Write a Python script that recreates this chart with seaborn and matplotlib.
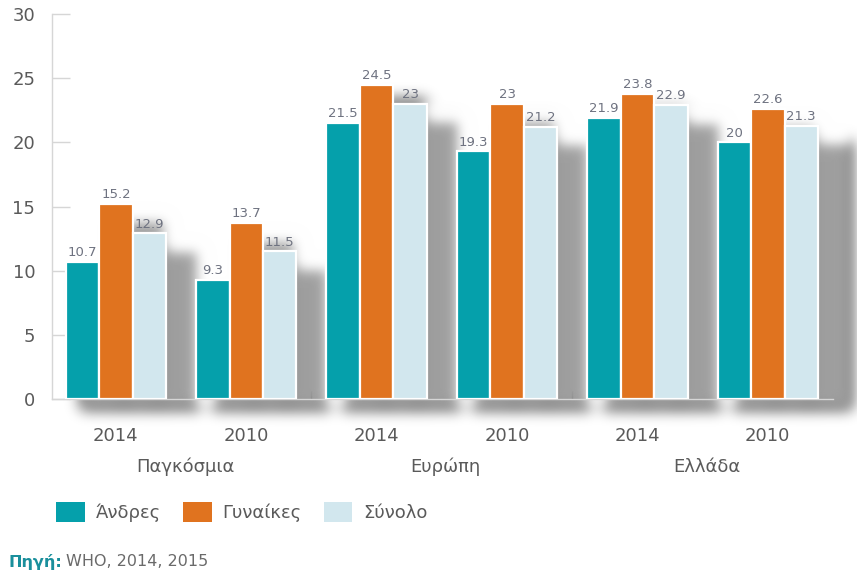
import numpy as np
import pandas as pd
import matplotlib
matplotlib.use("Agg")
import matplotlib.pyplot as plt
from matplotlib.patches import Rectangle, Patch
from matplotlib.collections import PatchCollection
from matplotlib.transforms import blended_transform_factory
import seaborn as sns

# ---- data -------------------------------------------------------------
regions = ["Παγκόσμια", "Ευρώπη", "Ελλάδα"]
years = ["2014", "2010", "2014", "2010", "2014", "2010"]
series = ["Άνδρες", "Γυναίκες", "Σύνολο"]
men = [10.7, 9.3, 21.5, 19.3, 21.9, 20]
women = [15.2, 13.7, 24.5, 23, 23.8, 22.6]
total = [12.9, 11.5, 23, 21.2, 22.9, 21.3]
men_labels = ["10.7", "9.3", "21.5", "19.3", "21.9", "20"]
women_labels = ["15.2", "13.7", "24.5", "23", "23.8", "22.6"]
total_labels = ["12.9", "11.5", "23", "21.2", "22.9", "21.3"]
yticks = [0, 5, 10, 15, 20, 25, 30]

colors = ["#05a0ab", "#e0731f", "#d2e7ee"]
text_gray = "#5a5a5a"

slots = [f"{regions[i // 2]} {y}" for i, y in enumerate(years)]
df = pd.DataFrame({
    "slot": slots * 3,
    "series": np.repeat(series, len(slots)),
    "value": men + women + total,
})

sns.set_theme(style="white")
plt.rcParams["font.family"] = ["DejaVu Sans"]

fig = plt.figure(figsize=(8.57, 5.74), dpi=100)
W, H = 857, 574
ax = fig.add_axes([52 / W, 1 - 399 / H, (833 - 52) / W, (399 - 14) / H])

sns.barplot(data=df, x="slot", y="value", hue="series", order=slots,
            hue_order=series, palette=colors, saturation=1, width=0.77,
            gap=0, edgecolor="white", linewidth=1.6, legend=False, ax=ax,
            zorder=3)


# ---- soft drop shadow behind the bars ---------------------------------
class GaussianBlur:
    def __init__(self, sigma_px):
        self.sigma = sigma_px

    def __call__(self, im, dpi):
        pad = int(3 * self.sigma)
        src = np.pad(im, [(pad, pad), (pad, pad), (0, 0)])
        r = np.arange(-pad, pad + 1)
        k = np.exp(-0.5 * (r / self.sigma) ** 2)
        k /= k.sum()
        out = np.zeros_like(src)
        for i, w in zip(r, k):
            out += w * np.roll(src, i, axis=0)
        src = out
        out = np.zeros_like(src)
        for i, w in zip(r, k):
            out += w * np.roll(src, i, axis=1)
        return out, -pad, -pad


shadow_rects = []
for bar in ax.patches:
    x, w, h = bar.get_x(), bar.get_width(), bar.get_height()
    shadow_rects.append(Rectangle((x + 0.12, -0.8), w + 0.14, h - 0.4))
shadow = PatchCollection(shadow_rects, facecolor="#9a9a9a", edgecolor="none",
                         alpha=0.95, zorder=1, clip_on=False)
shadow.set_agg_filter(GaussianBlur(7))
shadow.set_rasterized(True)
ax.add_collection(shadow)

# ---- value labels -----------------------------------------------------
for cont, labs in zip(ax.containers, [men_labels, women_labels, total_labels]):
    ax.bar_label(cont, labels=labs, padding=2, fontsize=9.5, color="#6e7280")

# ---- axes styling -----------------------------------------------------
ax.set_ylim(0, 30)
ax.set_xlim(-0.49, 5.5)
ax.set_yticks(yticks)
ax.set_yticklabels([str(t) for t in yticks])
ax.set_xticks(range(len(slots)))
ax.set_xticklabels(years)
ax.set_xlabel("")
ax.set_ylabel("")
for side in ["top", "right"]:
    ax.spines[side].set_visible(False)
for side in ["left", "bottom"]:
    ax.spines[side].set_color("#d6d6d6")
    ax.spines[side].set_linewidth(1.0)
ax.tick_params(axis="y", direction="in", length=13, width=1.0,
               color="#d6d6d6", labelsize=13, labelcolor=text_gray, pad=12,
               left=True)
ax.tick_params(axis="x", length=0, labelsize=13, labelcolor=text_gray, pad=20)
ax.set_xticks([1.5, 3.5], minor=True)
ax.tick_params(axis="x", which="minor", direction="in", length=6,
               color="#8a8a8a", bottom=True)

# region names under each pair of years
tr = blended_transform_factory(ax.transData, ax.transAxes)
for i, name in enumerate(regions):
    ax.text(2 * i + 0.53, -0.176, name, transform=tr, ha="center",
            va="center", fontsize=13, color=text_gray)

# ---- legend -----------------------------------------------------------
handles = [Patch(facecolor=c, edgecolor="none") for c in colors]
fig.legend(handles, series, loc="center left", bbox_to_anchor=(40 / W, 1 - 512 / H),
           ncol=3, frameon=False, fontsize=13, labelcolor=text_gray,
           handlelength=1.6, handleheight=1.3, handletextpad=0.6,
           columnspacing=1.2)

# ---- source line ------------------------------------------------------
src_y = 1 - 562 / H
t1 = fig.text(8 / W, src_y, "Πηγή:", fontsize=11.5, fontweight="bold",
              color="#1a8f9c", va="center", ha="left")
fig.canvas.draw()
bb = t1.get_window_extent()
fig.text((bb.x1 + 4) / W, src_y, "WHO, 2014, 2015", fontsize=11.5,
         color="#6a6a6a", va="center", ha="left")

fig.savefig("out.png", dpi=100)
